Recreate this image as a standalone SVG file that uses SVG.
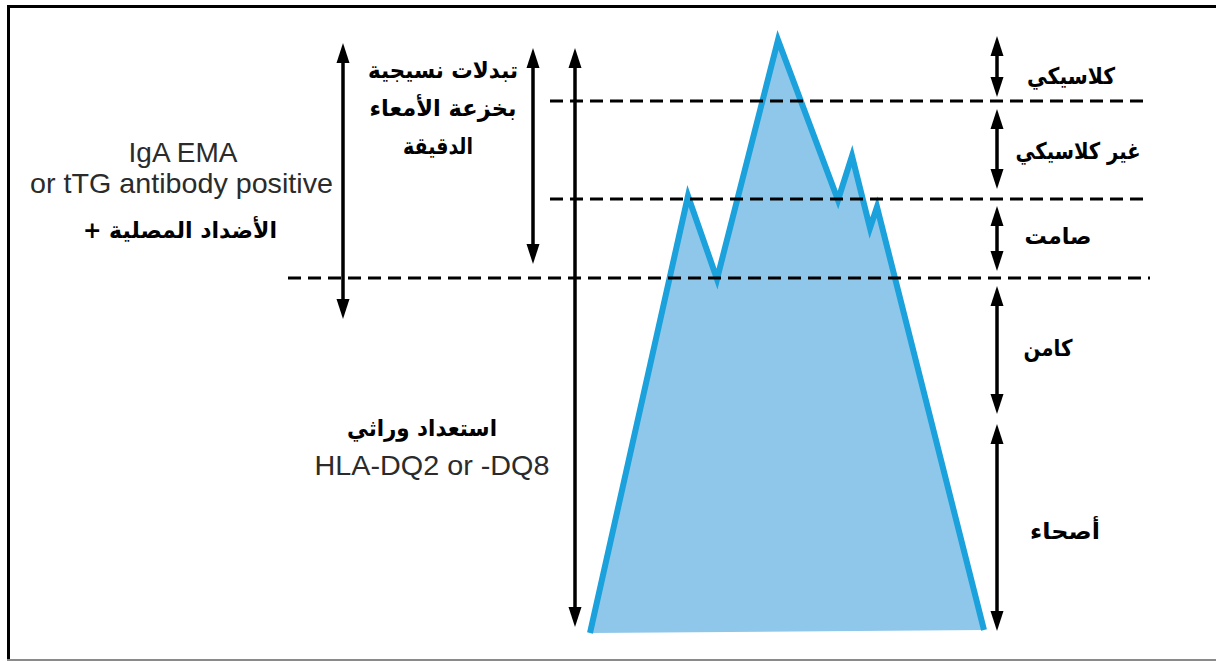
<svg xmlns="http://www.w3.org/2000/svg" width="1216" height="662" viewBox="0 0 1216 662">
<style>
.en{font-family:"Liberation Sans",Arial,sans-serif;font-size:28px;fill:#2b2b2b;text-anchor:middle}
.ar{font-family:"DejaVu Sans","Noto Sans",sans-serif;font-weight:bold;font-size:23px;fill:#000;text-anchor:middle}
.arrow{stroke:#000;stroke-width:3.5;fill:none;marker-start:url(#ah);marker-end:url(#ah)}
.dash{stroke:#000;stroke-width:3;stroke-dasharray:13 7;fill:none}
</style>
<defs>
<marker id="ah" markerUnits="userSpaceOnUse" markerWidth="20" markerHeight="13" viewBox="0 0 20 13" refX="1" refY="6.5" orient="auto-start-reverse" overflow="visible">
<path d="M0,0 L20,6.5 L0,13 z" fill="#000"/>
</marker>
</defs>
<rect width="1216" height="662" fill="#fff"/>
<g id="frame">
<line x1="7" y1="6.5" x2="1216" y2="6.5" stroke="#000" stroke-width="3"/>
<line x1="8.5" y1="5" x2="8.5" y2="661" stroke="#000" stroke-width="3"/>
<line x1="7" y1="660" x2="1216" y2="660" stroke="#8a8a8a" stroke-width="2"/>
</g>
<g id="mountain">
<polygon points="590,633 688,196 717,279 778,40 838,200 852,156 870,228 877,207 984,630" fill="#8ec7e9"/>
<polyline points="590,633 688,196 717,279 778,40 838,200 852,156 870,228 877,207 984,630" fill="none" stroke="#1ba1db" stroke-width="6" stroke-linejoin="miter" stroke-miterlimit="6"/>
</g>
<g id="connectors">
<line class="dash" x1="550" y1="101" x2="1150" y2="101"/>
<line class="dash" x1="550" y1="199" x2="1150" y2="199"/>
<line class="dash" x1="288" y1="278" x2="1150" y2="278"/>
<line class="arrow" x1="343" y1="62" x2="343" y2="300"/>
<line class="arrow" x1="533" y1="67" x2="533" y2="245"/>
<line class="arrow" x1="575" y1="67" x2="575" y2="608"/>
<line class="arrow" x1="997" y1="55" x2="997" y2="78"/>
<line class="arrow" x1="997" y1="128" x2="997" y2="170"/>
<line class="arrow" x1="997" y1="225" x2="997" y2="252"/>
<line class="arrow" x1="997" y1="305" x2="997" y2="395"/>
<line class="arrow" x1="997" y1="443" x2="997" y2="612"/>
</g>
<g id="serology">
<text class="en" x="183" y="162">IgA EMA</text>
<text class="en" x="181.5" y="193" textLength="303" lengthAdjust="spacingAndGlyphs">or tTG antibody positive</text>
<text class="ar" x="180" y="238" textLength="194" lengthAdjust="spacingAndGlyphs" style="direction:rtl;unicode-bidi:embed">الأضداد المصلية +</text>
</g>
<g id="histology">
<text class="ar" x="443" y="78" textLength="150" lengthAdjust="spacingAndGlyphs">تبدلات نسيجية</text>
<text class="ar" x="443" y="116" textLength="147" lengthAdjust="spacingAndGlyphs">بخزعة الأمعاء</text>
<text class="ar" x="438" y="154" textLength="70" lengthAdjust="spacingAndGlyphs">الدقيقة</text>
</g>
<g id="genetic">
<text class="ar" x="422" y="436" textLength="150" lengthAdjust="spacingAndGlyphs">استعداد وراثي</text>
<text class="en" x="432" y="475" textLength="235" lengthAdjust="spacingAndGlyphs">HLA-DQ2 or -DQ8</text>
</g>
<g id="classic"><text class="ar" x="1071" y="84" textLength="88" lengthAdjust="spacingAndGlyphs">كلاسيكي</text></g>
<g id="nonclassic"><text class="ar" x="1078" y="159" textLength="125" lengthAdjust="spacingAndGlyphs">غير كلاسيكي</text></g>
<g id="silent"><text class="ar" x="1058" y="244" textLength="67" lengthAdjust="spacingAndGlyphs">صامت</text></g>
<g id="latent"><text class="ar" x="1048" y="356" textLength="49" lengthAdjust="spacingAndGlyphs">كامن</text></g>
<g id="healthy"><text class="ar" x="1065" y="539" textLength="70" lengthAdjust="spacingAndGlyphs">أصحاء</text></g>
</svg>
